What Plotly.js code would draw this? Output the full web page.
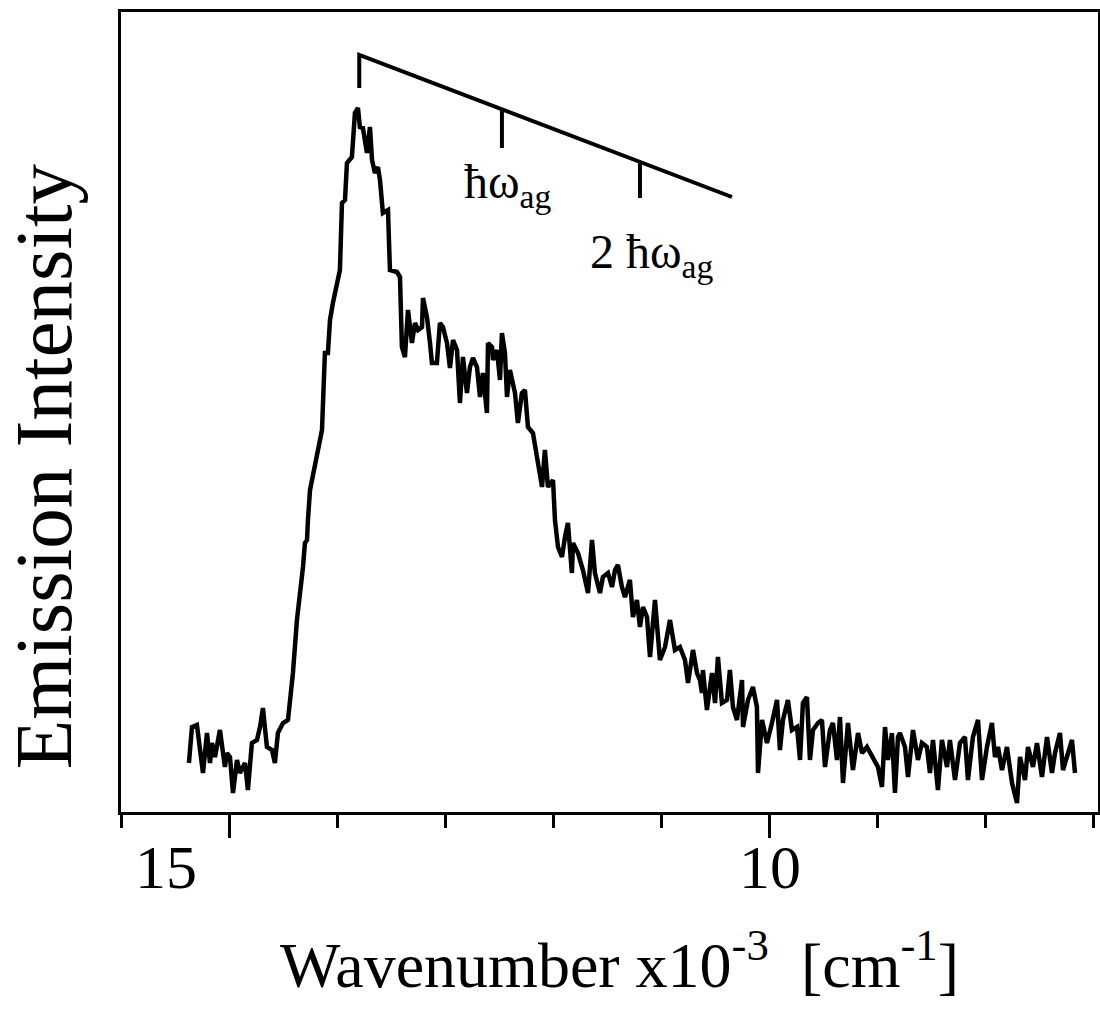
<!DOCTYPE html>
<html>
<head>
<meta charset="utf-8">
<script src="https://cdn.plot.ly/plotly-3.0.1.min.js"></script>
<style>html,body{margin:0;padding:0;background:#fff;}#chart{width:1100px;height:1011px;}</style>
</head>
<body>
<div id="chart"></div>
<script>
// Wavenumber (x10^-3 cm^-1)
const wavenumber = [15.377,15.349,15.303,15.247,15.210,15.182,15.164,15.136,15.090,15.074,15.044,15.025,14.997,14.969,14.932,14.905,14.858,14.831,14.794,14.747,14.719,14.692,14.655,14.608,14.581,14.553,14.506,14.460,14.442,14.414,14.377,14.349,14.321,14.303,14.284,14.275,14.256,14.145,14.118,14.090,14.071,14.044,13.979,13.960,13.932,13.914,13.868,13.840,13.812,13.794,13.766,13.729,13.701,13.682,13.655,13.627,13.608,13.581,13.534,13.516,13.451,13.423,13.405,13.377,13.349,13.312,13.284,13.256,13.219,13.210,13.173,13.145,13.127,13.081,13.053,13.025,12.988,12.960,12.932,12.895,12.868,12.840,12.803,12.775,12.747,12.710,12.682,12.655,12.618,12.608,12.571,12.562,12.525,12.497,12.479,12.451,12.432,12.405,12.358,12.331,12.294,12.266,12.238,12.192,12.155,12.108,12.081,12.053,12.006,11.988,11.960,11.923,11.895,11.868,11.831,11.821,11.775,11.729,11.682,11.645,11.618,11.571,11.544,11.497,11.460,11.432,11.405,11.368,11.340,11.294,11.266,11.229,11.201,11.173,11.136,11.108,11.062,11.016,10.969,10.923,10.877,10.831,10.784,10.756,10.710,10.673,10.645,10.627,10.618,10.581,10.534,10.506,10.479,10.442,10.395,10.368,10.340,10.303,10.256,10.247,10.201,10.155,10.118,10.108,10.071,10.025,9.979,9.932,9.905,9.877,9.831,9.794,9.747,9.719,9.692,9.655,9.627,9.599,9.553,9.516,9.488,9.442,9.414,9.377,9.349,9.321,9.275,9.229,9.182,9.145,9.099,9.044,8.997,8.960,8.932,8.905,8.868,8.840,8.812,8.794,8.747,8.719,8.673,8.627,8.590,8.544,8.516,8.488,8.442,8.405,8.358,8.331,8.284,8.238,8.192,8.164,8.118,8.071,8.034,7.988,7.942,7.914,7.886,7.849,7.803,7.756,7.710,7.682,7.636,7.608,7.562,7.525,7.479,7.432,7.386,7.358,7.312,7.284,7.238,7.201,7.173];
// Emission intensity (arbitrary units)
const intensity = [49,85,87,39,79,49,69,55,82,69,45,59,55,19,52,39,49,22,69,72,85,104,65,62,49,79,89,92,109,139,192,215,245,269,272,292,322,382,459,459,492,509,542,609,612,649,655,699,704,685,684,659,685,652,639,645,632,599,602,542,540,535,465,455,502,469,489,482,485,514,495,469,449,449,489,485,469,444,472,462,409,455,419,445,454,445,415,439,399,469,465,452,462,432,479,459,415,442,419,389,419,422,385,379,352,325,362,325,332,292,265,255,275,289,239,269,259,242,219,272,239,219,235,239,225,242,247,225,215,232,195,212,185,205,195,155,212,152,165,192,162,165,152,129,162,139,132,119,142,102,139,109,155,109,112,142,105,92,132,85,112,125,105,39,92,69,89,112,62,92,112,82,85,52,109,115,52,82,89,92,45,82,89,52,95,29,89,42,79,59,65,55,45,25,85,52,79,19,75,79,65,35,82,52,69,65,39,72,22,72,45,72,32,69,75,32,75,92,32,65,89,55,65,42,65,29,9,55,32,65,45,69,35,75,39,59,79,42,59,72,39];

// Progression bracket (hbar omega_ag spacing)
const bracketX = [13.80,13.80,10.349,null,12.479,12.479,null,11.201,11.201];
const bracketY = [724,757,615,null,703,664,null,650,614];

const majorTicks = [15,10];
const majorTickText = ["15","10"];
const majorLabelPos = [15.59,10.0];
const sideLabels = ["ħω<sub>ag</sub>","2 ħω<sub>ag</sub>"];

const serif = "Liberation Serif, Times New Roman, serif";

const traces = [
  {x: wavenumber, y: intensity, type: "scatter", mode: "lines",
   line: {color: "#000", width: 4.5}, hoverinfo: "skip"},
  {x: bracketX, y: bracketY, type: "scatter", mode: "lines",
   line: {color: "#000", width: 4}, hoverinfo: "skip", connectgaps: false}
];

const annotations = [
  {x: 12.423, y: 627, xref: "x", yref: "y", text: sideLabels[0], showarrow: false,
   font: {family: serif, size: 48, color: "#000"}, xanchor: "center", yanchor: "middle"},
  {x: 11.09, y: 557, xref: "x", yref: "y", text: sideLabels[1], showarrow: false,
   font: {family: serif, size: 48, color: "#000"}, xanchor: "center", yanchor: "middle"},
  {x: -0.078, y: 0.432, xref: "paper", yref: "paper", text: "Emission Intensity", showarrow: false,
   textangle: -90, font: {family: serif, size: 81, color: "#000"}, xanchor: "center", yanchor: "middle"},
  {x: 0.5107, y: -0.185, xref: "paper", yref: "paper",
   text: "Wavenumber x10<sup>-3</sup>\u00a0 [cm<sup>-1</sup>]", showarrow: false,
   font: {family: serif, size: 64, color: "#000"}, xanchor: "center", yanchor: "middle"}
];
majorTickText.forEach((t, i) => annotations.push({
  x: majorLabelPos[i], y: -0.069, xref: "x", yref: "paper", text: t, showarrow: false,
  font: {family: serif, size: 62, color: "#000"}, xanchor: "center", yanchor: "middle"
}));

const layout = {
  width: 1100, height: 1011,
  margin: {l: 121, r: 2, t: 12, b: 199},
  paper_bgcolor: "#fff", plot_bgcolor: "#fff",
  showlegend: false,
  font: {family: serif, color: "#000"},
  xaxis: {
    range: [16.006, 6.96], showgrid: false, zeroline: false,
    showline: true, linecolor: "#000", linewidth: 3, mirror: true,
    ticks: "outside", ticklen: 23, tickwidth: 3, tickcolor: "#000",
    tickmode: "array", tickvals: majorTicks, showticklabels: false,
    minor: {dtick: 1, tick0: 0, ticks: "outside", ticklen: 13, tickwidth: 3, tickcolor: "#000", showgrid: false},
    fixedrange: true
  },
  yaxis: {
    range: [0, 800], showgrid: false, zeroline: false,
    showline: true, linecolor: "#000", linewidth: 3, mirror: true,
    ticks: "", showticklabels: false, fixedrange: true
  },
  annotations: annotations
};

Plotly.newPlot("chart", traces, layout, {displayModeBar: false, staticPlot: true});
</script>
</body>
</html>
